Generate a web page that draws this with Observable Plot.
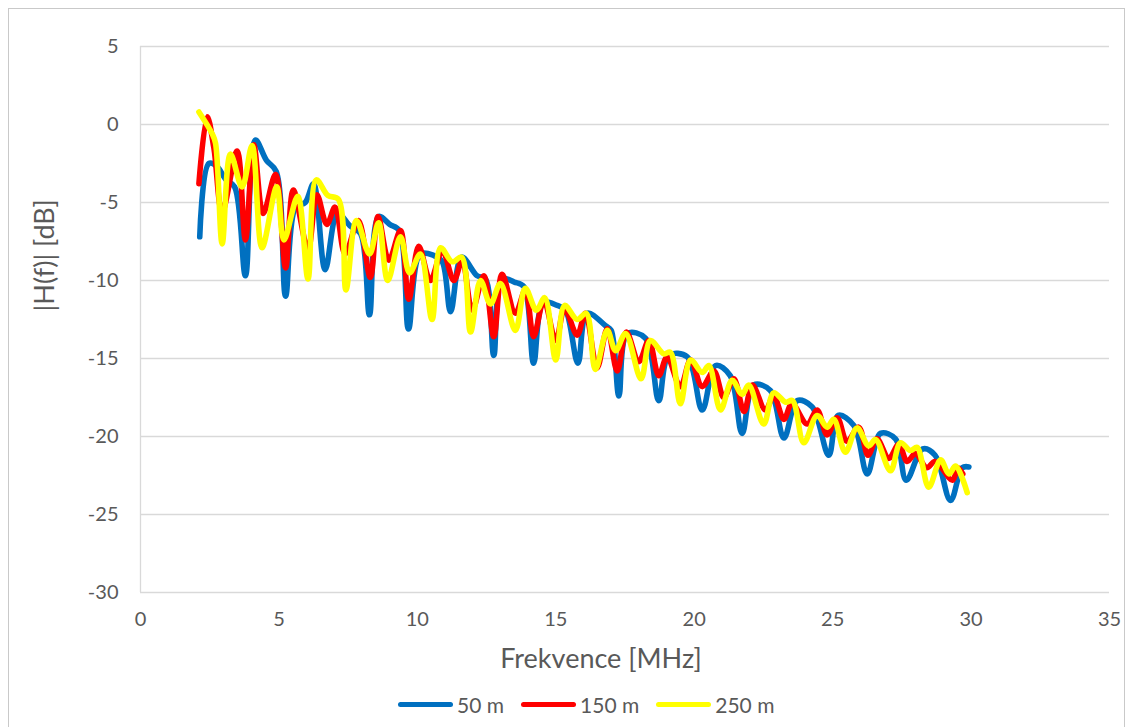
<!DOCTYPE html>
<html>
<head>
<meta charset="utf-8">
<script src="https://cdn.jsdelivr.net/npm/d3@7"></script>
<script src="https://cdn.jsdelivr.net/npm/@observablehq/plot@0.6"></script>
<style>
  html, body { margin: 0; padding: 0; background: #fff; }
  body { width: 1132px; height: 727px; position: relative; overflow: hidden; font-family: Lato, "Liberation Sans", sans-serif; }
  #frame { position: absolute; left: 8px; top: 8px; width: 1117px; height: 760px; border: 1px solid #c9c9c9; box-sizing: border-box; }
  #chart { position: absolute; left: 0; top: 0; }
  #legend { position: absolute; left: 398px; top: 692px; display: flex; align-items: center; font-size: 21px; color: #595959; }
  .sw { width: 55px; height: 5.5px; border-radius: 3px; margin-right: 4px; }
  .lab { margin-right: 17px; }
</style>
</head>
<body>
<div id="frame"></div>
<div id="chart"></div>
<div id="legend"></div>
<script>
// ---- data ----
const seriesNames = ["50 m", "150 m", "250 m"];
const seriesColors = ["#0070C0", "#FF0000", "#FFFF00"];
const xTicks = [0, 5, 10, 15, 20, 25, 30, 35];
const yTicks = [5, 0, -5, -10, -15, -20, -25, -30];
const xTitle = "Frekvence [MHz]";
const yTitle = "|H(f)| [dB]";

const freq50 = [2.14, 2.47, 2.77, 3.07, 3.4, 3.79, 4.15, 4.55, 4.9, 5.24, 5.6, 5.95, 6.25, 6.67, 7.12, 7.57, 7.95, 8.27, 8.6, 9.0, 9.35, 9.68, 10.1, 10.6, 10.9, 11.2, 11.6, 12.16, 12.46, 12.76, 13.06, 13.5, 13.85, 14.2, 14.55, 15.05, 15.35, 15.8, 16.13, 16.8, 17.0, 17.28, 17.58, 18.24, 18.72, 19.08, 19.75, 20.29, 20.77, 21.3, 21.73, 22.15, 22.75, 23.24, 23.72, 24.26, 24.86, 25.2, 25.77, 26.25, 26.73, 27.27, 27.66, 28.25, 28.7, 29.26, 29.68, 29.92];
const db50 = [-7.2, -2.5, -2.7, -3.5, -4.0, -9.7, -1.0, -2.3, -3.0, -11.0, -5.3, -5.0, -3.8, -9.3, -5.7, -6.5, -7.0, -12.2, -5.9, -6.4, -6.8, -13.1, -8.3, -8.4, -8.8, -12.0, -8.5, -9.7, -9.9, -14.8, -9.9, -10.1, -10.4, -15.3, -11.4, -11.6, -11.9, -15.3, -12.1, -12.9, -13.2, -17.4, -13.4, -13.7, -17.7, -14.8, -14.9, -18.3, -15.45, -16.1, -19.8, -16.7, -17.05, -20.1, -17.7, -18.1, -21.2, -18.65, -19.3, -22.4, -19.8, -20.15, -22.8, -20.8, -21.2, -24.1, -22.0, -21.95];

const freq150 = [2.11, 2.41, 2.65, 2.95, 3.49, 3.79, 4.09, 4.43, 4.88, 5.24, 5.52, 6.05, 6.37, 6.73, 7.03, 7.39, 7.87, 8.3, 8.58, 8.97, 9.39, 9.69, 10.05, 10.47, 10.9, 11.32, 11.62, 11.98, 12.4, 12.76, 13.06, 13.54, 13.9, 14.2, 14.57, 15.0, 15.32, 15.77, 16.07, 16.49, 16.86, 17.22, 17.55, 18.0, 18.36, 18.72, 19.02, 19.5, 19.87, 20.29, 20.71, 21.07, 21.43, 21.8, 22.1, 22.57, 22.87, 23.24, 23.53, 24.08, 24.44, 24.8, 25.16, 25.52, 25.94, 26.28, 26.6, 27.03, 27.39, 27.69, 27.99, 28.4, 28.7, 29.33, 29.52, 29.7];
const db150 = [-3.8, 0.5, -1.5, -5.6, -1.7, -7.4, -1.3, -5.7, -3.2, -9.2, -4.2, -8.0, -4.5, -6.4, -5.3, -8.3, -6.15, -9.8, -5.9, -8.7, -6.8, -11.2, -7.8, -10.0, -8.1, -10.0, -8.7, -11.9, -9.7, -13.6, -9.6, -12.1, -10.6, -13.6, -11.3, -13.85, -11.8, -13.5, -12.1, -15.6, -13.1, -15.8, -13.3, -15.2, -13.85, -16.1, -14.9, -16.8, -15.1, -16.8, -15.8, -17.5, -16.3, -18.4, -16.7, -18.3, -17.4, -18.9, -17.9, -19.2, -18.3, -19.9, -18.8, -20.3, -19.4, -21.2, -20.15, -21.4, -20.5, -21.6, -21.1, -22.0, -21.6, -22.8, -22.0, -22.4];

const freq250 = [2.11, 2.59, 2.71, 2.95, 3.25, 3.67, 4.03, 4.39, 4.92, 5.18, 5.68, 6.05, 6.35, 6.77, 7.15, 7.42, 7.8, 8.27, 8.6, 8.93, 9.39, 9.72, 10.11, 10.53, 10.84, 11.26, 11.6, 11.92, 12.28, 12.64, 13.0, 13.54, 13.9, 14.3, 14.6, 15.0, 15.32, 15.77, 16.1, 16.43, 16.86, 17.16, 17.52, 18.08, 18.42, 18.9, 19.14, 19.5, 19.87, 20.29, 20.53, 20.95, 21.37, 21.73, 21.97, 22.51, 22.87, 23.3, 23.55, 23.96, 24.44, 24.8, 25.04, 25.46, 25.88, 26.3, 26.55, 27.09, 27.45, 27.81, 28.05, 28.47, 28.9, 29.2, 29.44, 29.86];
const db250 = [0.8, -0.6, -1.2, -7.65, -1.9, -4.0, -1.35, -7.9, -4.0, -7.4, -4.6, -9.9, -3.55, -4.55, -4.8, -10.6, -6.15, -8.3, -6.3, -10.0, -7.2, -9.5, -8.3, -12.5, -7.9, -8.8, -8.5, -13.3, -10.0, -11.5, -10.2, -13.2, -10.5, -11.9, -11.1, -15.1, -11.6, -12.5, -12.1, -15.7, -13.2, -14.5, -13.4, -16.3, -13.85, -14.7, -14.6, -17.9, -15.1, -15.9, -15.45, -18.3, -16.4, -17.3, -16.7, -19.2, -17.2, -17.8, -17.7, -20.4, -18.65, -19.4, -18.9, -21.0, -19.45, -20.6, -20.2, -22.2, -20.4, -20.9, -20.7, -23.25, -21.5, -22.4, -21.9, -23.6];

// ---- build tables ----
const freqs = [freq50, freq150, freq250];
const dbs = [db50, db150, db250];
const rows = seriesNames.flatMap((name, i) => freqs[i].map((f, j) => ({series: name, f, db: dbs[i][j]})));

const font = "Lato, 'Liberation Sans', sans-serif";
const grey = "#595959";
const fmt = d => String(d);

const chart = Plot.plot({
  width: 1132,
  height: 685,
  marginLeft: 140,
  marginRight: 23,
  marginTop: 46,
  marginBottom: 93,
  style: {fontFamily: font, background: "transparent", overflow: "visible"},
  x: {domain: [0, 35]},
  y: {domain: [-30, 5]},
  marks: [
    Plot.ruleY(yTicks, {stroke: "#d9d9d9", strokeWidth: 1.3}),
    Plot.ruleX([0], {stroke: "#d9d9d9", strokeWidth: 1.3}),
    ...seriesNames.map((name, i) => Plot.line(rows.filter(d => d.series === name), {
      x: "f", y: "db", stroke: seriesColors[i], strokeWidth: 5.6,
      curve: "catmull-rom", strokeLinejoin: "round", strokeLinecap: "round"
    })),
    Plot.axisX(xTicks, {tickSize: 0, tickPadding: 19, fontSize: 20, color: grey, label: null, tickFormat: fmt}),
    Plot.axisY(yTicks, {tickSize: 0, tickPadding: 22, fontSize: 20, color: grey, label: null, tickFormat: fmt}),
    Plot.text([xTitle], {frameAnchor: "bottom", dx: -24, dy: 67, fontSize: 27, fill: grey, lineAnchor: "middle"}),
    Plot.text([yTitle], {frameAnchor: "left", dx: -95, dy: -8, rotate: -90, fontSize: 27, fill: grey, lineAnchor: "middle"})
  ]
});
document.getElementById("chart").appendChild(chart);

// ---- legend ----
const legend = document.getElementById("legend");
seriesNames.forEach((name, i) => {
  const sw = document.createElement("div");
  sw.className = "sw";
  sw.style.background = seriesColors[i];
  const lab = document.createElement("div");
  lab.className = "lab";
  lab.textContent = name;
  legend.appendChild(sw);
  legend.appendChild(lab);
});
</script>
</body>
</html>
